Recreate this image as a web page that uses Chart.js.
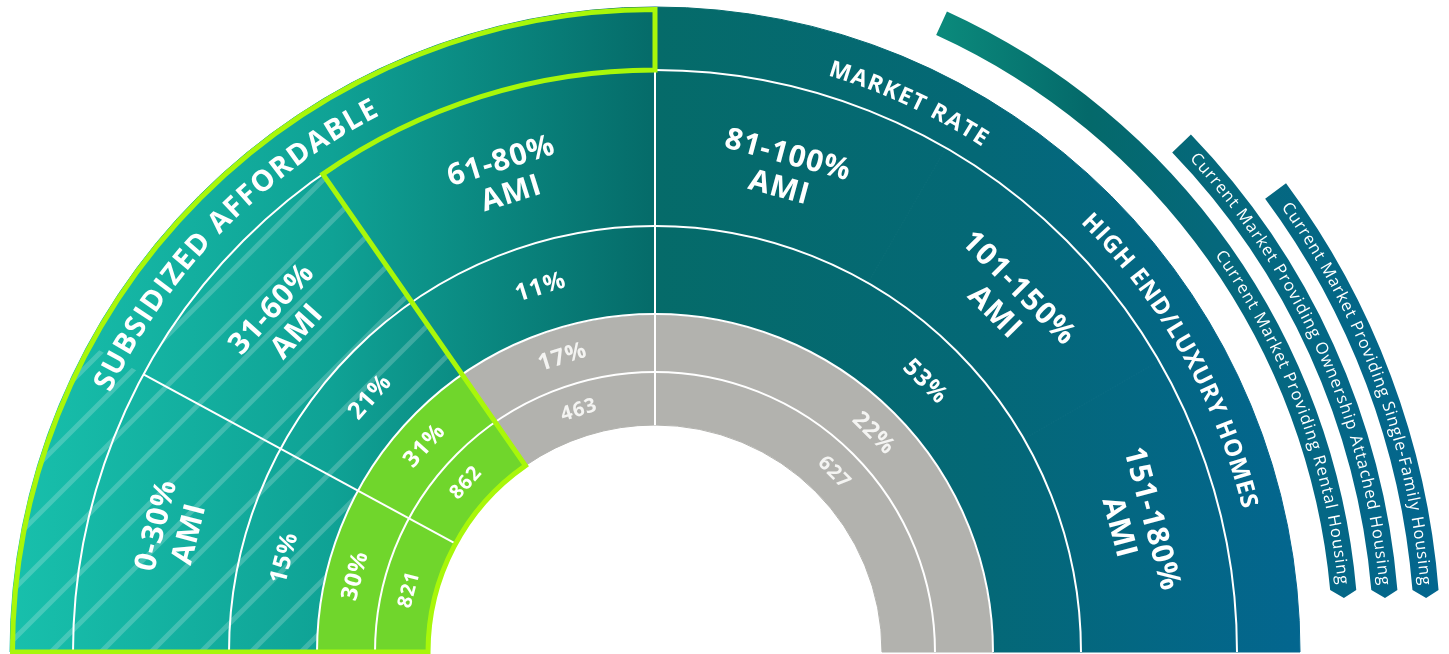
<!DOCTYPE html>
<html lang="en">
<head>
<meta charset="UTF-8">
<title>Housing Gap by AMI</title>
<style>
    body { margin: 0; background: #fff; }
    .chart-container { position: relative; width: 1449px; height: 654px; }
</style>
<script src="https://cdn.jsdelivr.net/npm/chart.js"></script>
</head>
<body>
<div class="chart-container"><canvas id="gapChart"></canvas></div>
<script>
// income bands on the wide ring, and how much of the half circle each one gets (degrees)
const amiBands = ['0-30%', '31-60%', '61-80%', '81-100%', '101-150%', '151-180%'];
const bandSpan = [28.5, 26.7, 34.8, 30, 30, 30];
// the inner rings group the three top bands into one segment
const groupSpan = [bandSpan[0], bandSpan[1], bandSpan[2], bandSpan[3] + bandSpan[4] + bandSpan[5]];
const householdShare = [15, 21, 11, 53];
const gapShare = [30, 31, 17, 22];
const gapUnits = [821, 862, 463, 627];
const tiers = ['SUBSIDIZED AFFORDABLE', 'MARKET RATE'];
const tierSpan = [90, 90];
const subTier = 'HIGH END/LUXURY HOMES';
const marketProviding = [
    'Current Market Providing Rental Housing',
    'Current Market Providing Ownership Attached Housing',
    'Current Market Providing Single-Family Housing'
];

const LIME = '#a8f70a';
const GREEN = '#70d62c';
const GRAY = '#b2b2ae';
const FONT = '"Open Sans", "DejaVu Sans", sans-serif';
const deg = d => d * Math.PI / 180;

let tealGrad = null;
function teal(c) {
    const chart = c.chart;
    if (!chart.chartArea) return '#056b69';
    if (!tealGrad) {
        const { left, right } = chart.chartArea;
        const g = chart.ctx.createLinearGradient(left, 0, right, 0);
        g.addColorStop(0, '#18c0ac');
        g.addColorStop(0.25, '#0fa295');
        g.addColorStop(0.5, '#056b69');
        g.addColorStop(0.75, '#046876');
        g.addColorStop(1, '#03668f');
        tealGrad = g;
    }
    return tealGrad;
}
const greenGray = [GREEN, GREEN, GRAY, GRAY];

function label(ctx, lines, x, y, angle, font, color, lh, spacing) {
    ctx.save();
    ctx.translate(x, y);
    ctx.rotate(angle + Math.PI / 2);
    ctx.font = font;
    ctx.fillStyle = color;
    ctx.textAlign = 'center';
    ctx.textBaseline = 'middle';
    ctx.letterSpacing = spacing || '0px';
    lines.forEach((t, i) => ctx.fillText(t, 0, (i - (lines.length - 1) / 2) * lh));
    ctx.restore();
}

// text running clockwise along an arc, first char centre at a0, last at a1
function arcText(ctx, text, cx, cy, r, a0, a1, font, color) {
    ctx.save();
    ctx.font = font;
    ctx.fillStyle = color;
    ctx.textAlign = 'center';
    ctx.textBaseline = 'middle';
    const chars = [...text];
    const w = chars.map(ch => ctx.measureText(ch).width);
    let natural = 0;
    for (let i = 1; i < chars.length; i++) natural += (w[i - 1] + w[i]) / 2;
    const extra = (r * (a1 - a0) - natural) / (chars.length - 1);
    let s = 0;
    chars.forEach((ch, i) => {
        if (i > 0) s += (w[i - 1] + w[i]) / 2 + extra;
        const a = a0 + s / r;
        ctx.save();
        ctx.translate(cx + r * Math.cos(a), cy + r * Math.sin(a));
        ctx.rotate(a + Math.PI / 2);
        ctx.fillText(ch, 0, 0);
        ctx.restore();
    });
    ctx.restore();
}

const overlay = {
    id: 'overlay',
    afterDatasetsDraw(chart) {
        const ctx = chart.ctx;
        const meta = i => chart.getDatasetMeta(i).data;
        const ring = i => ({ o: meta(i)[0].outerRadius, n: meta(i)[0].innerRadius });
        const cx = meta(0)[0].x, cy = meta(0)[0].y;
        const tier = ring(0), band = ring(1), house = ring(2), gap = ring(3), units = ring(4);
        const aA = meta(4)[0].endAngle, aB = meta(4)[1].endAngle, aC = meta(4)[2].endAngle;

        // hatching over the subsidized bands
        ctx.save();
        ctx.beginPath();
        ctx.arc(cx, cy, tier.o, -Math.PI, aA);
        ctx.arc(cx, cy, band.o, aA, aB);
        ctx.arc(cx, cy, house.n, aB, -Math.PI, true);
        ctx.closePath();
        ctx.clip();
        ctx.strokeStyle = 'rgba(255,255,255,0.2)';
        ctx.lineWidth = 5;
        for (let c = 3; c < 1450; c += 50) {
            ctx.beginPath();
            ctx.moveTo(c, 0);
            ctx.lineTo(c - 760, 760);
            ctx.stroke();
        }
        ctx.restore();

        // white ring and segment dividers
        ctx.save();
        ctx.strokeStyle = '#fff';
        ctx.lineWidth = 2;
        [tier.n, band.n, house.n, gap.n].forEach(r => {
            ctx.beginPath();
            ctx.arc(cx, cy, r, -Math.PI, 0);
            ctx.stroke();
        });
        [aA, aC].forEach(a => {
            ctx.beginPath();
            ctx.moveTo(cx + units.n * Math.cos(a), cy + units.n * Math.sin(a));
            ctx.lineTo(cx + band.o * Math.cos(a), cy + band.o * Math.sin(a));
            ctx.stroke();
        });
        ctx.restore();

        // lime outline round the subsidized part
        ctx.save();
        ctx.strokeStyle = LIME;
        ctx.lineWidth = 5;
        ctx.lineJoin = 'miter';
        ctx.beginPath();
        ctx.arc(cx, cy, tier.o - 2.5, -Math.PI, -Math.PI / 2);
        ctx.lineTo(cx, cy - band.o);
        ctx.arc(cx, cy, band.o, -Math.PI / 2, aB, true);
        ctx.lineTo(cx + units.n * Math.cos(aB), cy + units.n * Math.sin(aB));
        ctx.arc(cx, cy, units.n, aB, -Math.PI, true);
        ctx.closePath();
        ctx.stroke();
        ctx.restore();

        // segment labels
        const mid = el => ({
            a: (el.startAngle + el.endAngle) / 2,
            r: (el.innerRadius + el.outerRadius) / 2
        });
        const put = (el, lines, font, color, lh, sp, dr) => {
            const m = mid(el);
            const r = m.r + (dr || 0);
            label(ctx, lines, cx + r * Math.cos(m.a), cy + r * Math.sin(m.a), m.a, font, color, lh, sp);
        };
        meta(1).forEach((el, i) => put(el, [amiBands[i], 'AMI'], `700 30px ${FONT}`, '#fff', 34, '1px', -7));
        meta(2).forEach((el, i) => put(el, [householdShare[i] + '%'], `700 24px ${FONT}`, '#fff', 0, '1px'));
        meta(3).forEach((el, i) => put(el, [gapShare[i] + '%'], `700 23px ${FONT}`, i < 2 ? '#fff' : '#f4f4f2', 0, '1px'));
        meta(4).forEach((el, i) => put(el, [String(gapUnits[i])], `700 20px ${FONT}`, i < 2 ? '#fff' : '#f4f4f2', 0, '1px'));

        // tier names along the outer band
        const tr = (tier.o + tier.n) / 2 - 2;
        arcText(ctx, tiers[0], cx, cy, tr, deg(-180 + 26.2), deg(-180 + 62.1), `700 29px ${FONT}`, '#fff');
        arcText(ctx, tiers[1], cx, cy, tr - 3, deg(-72.3), deg(-57.7), `700 23px ${FONT}`, '#fff');
        arcText(ctx, subTier, cx, cy, tr, deg(-44.4), deg(-14.3), `700 24px ${FONT}`, '#fff');

        // "current market providing" ribbons outside the market rate side
        const rib = ctx.createLinearGradient(935, 0, 1445, 0);
        rib.addColorStop(0, '#0b8b7c');
        rib.addColorStop(0.3, '#04696a');
        rib.addColorStop(0.55, '#05687c');
        rib.addColorStop(1, '#03668f');
        const ribbons = [
            { r: tier.o + 46, start: -65.5, t0: -34.9, t1: -6.0 },
            { r: tier.o + 87, start: -44.0, t0: -42.3, t1: -5.6 },
            { r: tier.o + 128, start: -36.6, t0: -35.0, t1: -5.3 }
        ];
        ribbons.forEach((b, i) => {
            const ro = b.r + 13, ri = b.r - 13;
            const endO = -Math.asin((cy - 590) / ro), endI = -Math.asin((cy - 590) / ri);
            const tip = -Math.asin((cy - 598) / b.r);
            ctx.save();
            ctx.fillStyle = rib;
            ctx.beginPath();
            ctx.arc(cx, cy, ro, deg(b.start), endO);
            ctx.lineTo(cx + b.r * Math.cos(tip), cy + b.r * Math.sin(tip));
            ctx.arc(cx, cy, ri, endI, deg(b.start), true);
            ctx.closePath();
            ctx.fill();
            ctx.restore();
            arcText(ctx, marketProviding[i], cx, cy, b.r, deg(b.t0), deg(b.t1), `500 16.5px ${FONT}`, '#fff');
        });
    }
};

new Chart(document.getElementById('gapChart'), {
    type: 'doughnut',
    data: {
        labels: amiBands,
        datasets: [
            { label: 'Tier', data: tierSpan, backgroundColor: teal, borderColor: teal, borderWidth: 1, weight: 63 },
            { label: 'AMI band', data: bandSpan, backgroundColor: teal, borderColor: teal, borderWidth: 1, weight: 156 },
            { label: 'Share of households', data: groupSpan, backgroundColor: teal, borderColor: teal, borderWidth: 1, weight: 88 },
            { label: 'Share of gap', data: groupSpan, backgroundColor: greenGray, borderColor: greenGray, borderWidth: 1, weight: 58 },
            { label: 'Units', data: groupSpan, backgroundColor: greenGray, borderColor: greenGray, borderWidth: 1, weight: 53 }
        ]
    },
    options: {
        responsive: true,
        maintainAspectRatio: false,
        animation: false,
        devicePixelRatio: 1,
        circumference: 180,
        rotation: -90,
        cutout: '35.19%',
        radius: 645,
        layout: { padding: { left: 10, top: 7, right: 149, bottom: 2 } },
        plugins: {
            legend: { display: false },
            tooltip: { enabled: false }
        }
    },
    plugins: [overlay]
});
</script>
</body>
</html>
